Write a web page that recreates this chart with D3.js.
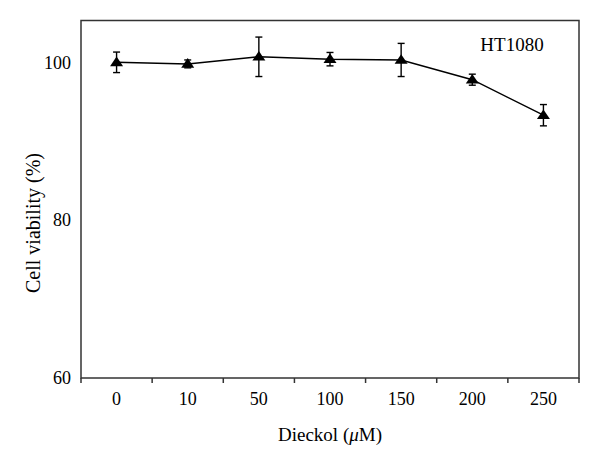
<!DOCTYPE html>
<html>
<head>
<meta charset="utf-8">
<script src="https://cdn.jsdelivr.net/npm/d3@7"></script>
<style>
  body { margin: 0; background: #fff; }
  svg { display: block; font-family: "Liberation Serif", "DejaVu Serif", serif; }
</style>
</head>
<body>
<svg id="chart" width="600" height="465"></svg>
<script>
// doses (uM) and viability
const doses = ["0", "10", "50", "100", "150", "200", "250"];
const viability = [100.0, 99.8, 100.7, 100.4, 100.3, 97.8, 93.3];
const errors = [1.3, 0.5, 2.5, 0.85, 2.1, 0.7, 1.35];
const yTicks = [60, 80, 100];

const width = 600, height = 465;
const margin = { top: 20.5, right: 21, bottom: 87, left: 81 };

const svg = d3.select("#chart");

const x = d3.scaleBand()
    .domain(doses)
    .range([margin.left, width - margin.right])
    .padding(0);

const y = d3.scaleLinear()
    .domain([60, 105.3])
    .range([height - margin.bottom, margin.top]);

const axisColor = "#333";

// frame
svg.append("rect")
    .attr("x", margin.left)
    .attr("y", margin.top)
    .attr("width", width - margin.left - margin.right)
    .attr("height", height - margin.top - margin.bottom)
    .attr("fill", "none")
    .attr("stroke", axisColor)
    .attr("stroke-width", 1.5);

// x ticks sit between categories
const bounds = doses.map(d => x(d)).concat([x(doses[doses.length - 1]) + x.bandwidth()]);
svg.append("g")
    .selectAll("line")
    .data(bounds)
    .join("line")
    .attr("x1", d => d)
    .attr("x2", d => d)
    .attr("y1", y(60))
    .attr("y2", y(60) + 5)
    .attr("stroke", axisColor)
    .attr("stroke-width", 1.5);

// x tick labels
const xAxis = svg.append("g")
    .attr("transform", `translate(0,${y(60)})`)
    .call(d3.axisBottom(x).tickSize(0).tickPadding(14));
xAxis.select(".domain").remove();
xAxis.selectAll("text")
    .attr("font-family", "Liberation Serif, serif")
    .attr("font-size", 18)
    .attr("fill", "#000");

// y tick labels
const yAxis = svg.append("g")
    .attr("transform", `translate(${margin.left},0)`)
    .call(d3.axisLeft(y).tickValues(yTicks).tickSize(0).tickPadding(10));
yAxis.select(".domain").remove();
yAxis.selectAll("text")
    .attr("font-family", "Liberation Serif, serif")
    .attr("font-size", 18)
    .attr("fill", "#000");

// axis titles
const xTitle = svg.append("text")
    .attr("x", (margin.left + width - margin.right) / 2)
    .attr("y", 441)
    .attr("text-anchor", "middle")
    .attr("font-size", 19)
    .attr("fill", "#000");
xTitle.append("tspan").text("Dieckol (");
xTitle.append("tspan").attr("font-style", "italic").text("\u03bc");
xTitle.append("tspan").text("M)");

svg.append("text")
    .attr("transform", "translate(40,223) rotate(-90)")
    .attr("text-anchor", "middle")
    .attr("font-size", 20)
    .attr("fill", "#000")
    .text("Cell viability (%)");

// cell line label
svg.append("text")
    .attr("x", 512)
    .attr("y", 50.5)
    .attr("text-anchor", "middle")
    .attr("font-size", 19)
    .attr("fill", "#000")
    .text("HT1080");

const pts = doses.map((d, i) => ({ dose: d, v: viability[i], e: errors[i] }));
const cx = d => x(d.dose) + x.bandwidth() / 2;

// connecting line
svg.append("path")
    .datum(pts)
    .attr("fill", "none")
    .attr("stroke", "#000")
    .attr("stroke-width", 1.5)
    .attr("d", d3.line().x(cx).y(d => y(d.v)));

// error bars
const eb = svg.append("g").attr("stroke", "#000").attr("stroke-width", 1.4);
eb.selectAll(".stem")
    .data(pts)
    .join("line")
    .attr("x1", cx).attr("x2", cx)
    .attr("y1", d => y(d.v + d.e))
    .attr("y2", d => y(d.v - d.e));
eb.selectAll(".capTop")
    .data(pts)
    .join("line")
    .attr("x1", d => cx(d) - 3.5).attr("x2", d => cx(d) + 3.5)
    .attr("y1", d => y(d.v + d.e)).attr("y2", d => y(d.v + d.e));
eb.selectAll(".capBot")
    .data(pts)
    .join("line")
    .attr("x1", d => cx(d) - 3.5).attr("x2", d => cx(d) + 3.5)
    .attr("y1", d => y(d.v - d.e)).attr("y2", d => y(d.v - d.e));

// triangle markers
svg.append("g")
    .selectAll("path")
    .data(pts)
    .join("path")
    .attr("fill", "#000")
    .attr("d", d => {
        const px = cx(d), py = y(d.v);
        return `M${px},${py - 5.8}L${px + 6.5},${py + 3.8}L${px - 6.5},${py + 3.8}Z`;
    });
</script>
</body>
</html>
